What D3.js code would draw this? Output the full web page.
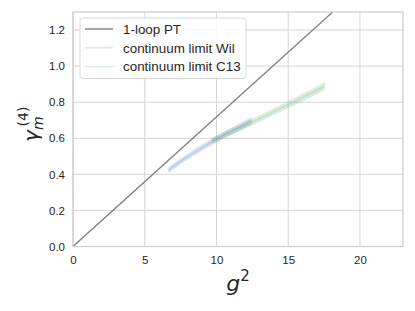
<!DOCTYPE html>
<html><head><meta charset="utf-8">
<script src="https://cdn.jsdelivr.net/npm/d3@7"></script>
<style>body{margin:0;background:#fff}svg{display:block}</style>
</head><body>
<svg id="c" width="415" height="311"></svg>
<script>
// Data
const xTicks = [0, 5, 10, 15, 20];
const yTicks = [0.0, 0.2, 0.4, 0.6, 0.8, 1.0, 1.2];
const ptG2 = [0, 18.1];
const ptGamma = [0, 1.3];
const wilG2 = [6.65, 7.5, 8.5, 9.5, 10.5, 11.5, 12.45];
const wilGamma = [0.423, 0.472, 0.524, 0.572, 0.617, 0.658, 0.697];
const wilErr = [0.016, 0.016, 0.017, 0.018, 0.019, 0.02, 0.021];
const c13G2 = [9.65, 11, 12.5, 14, 15.5, 17.55];
const c13Gamma = [0.585, 0.635, 0.69, 0.748, 0.806, 0.888];
const c13Err = [0.016, 0.017, 0.018, 0.019, 0.02, 0.022];
const legendLabels = ["1-loop PT", "continuum limit Wil", "continuum limit C13"];

const svg = d3.select("#c");
const m = {l: 73, r: 403, t: 12, b: 246.5};
const x = d3.scaleLinear().domain([0, 23]).range([m.l, m.r]);
const y = d3.scaleLinear().domain([0, 1.3]).range([m.b, m.t]);
const font = "'Liberation Sans', Arial, sans-serif";

// grid
const g = svg.append("g");
g.selectAll(".gx").data(xTicks).enter().append("line")
  .attr("x1", d => x(d)).attr("x2", d => x(d)).attr("y1", m.t).attr("y2", m.b)
  .attr("stroke", "#d5d5d5").attr("stroke-width", 1);
g.selectAll(".gy").data(yTicks).enter().append("line")
  .attr("y1", d => y(d)).attr("y2", d => y(d)).attr("x1", m.l).attr("x2", m.r)
  .attr("stroke", "#d5d5d5").attr("stroke-width", 1);

// clip
svg.append("clipPath").attr("id", "clip").append("rect")
  .attr("x", m.l).attr("y", m.t).attr("width", m.r - m.l).attr("height", m.b - m.t);
const plot = svg.append("g").attr("clip-path", "url(#clip)");

function band(xs, ys, es, color) {
  const pts = xs.map((v, i) => ({x: v, y: ys[i], e: es[i]}));
  plot.append("path").datum(pts)
    .attr("d", d3.area().curve(d3.curveMonotoneX).x(d => x(d.x)).y0(d => y(d.y - d.e)).y1(d => y(d.y + d.e)))
    .attr("fill", color).attr("fill-opacity", 0.22);
  plot.append("path").datum(pts)
    .attr("d", d3.line().curve(d3.curveMonotoneX).x(d => x(d.x)).y(d => y(d.y)))
    .attr("fill", "none").attr("stroke", color).attr("stroke-opacity", 0.2).attr("stroke-width", 1.3);
}
band(wilG2, wilGamma, wilErr, "#4C72B0");
band(c13G2, c13Gamma, c13Err, "#55A868");

plot.append("path").datum(ptG2.map((v, i) => [v, ptGamma[i]]))
  .attr("d", d3.line().x(d => x(d[0])).y(d => y(d[1])))
  .attr("fill", "none").attr("stroke", "#808080").attr("stroke-width", 1.3);

// frame
svg.append("rect").attr("x", m.l).attr("y", m.t).attr("width", m.r - m.l).attr("height", m.b - m.t)
  .attr("fill", "none").attr("stroke", "#cccccc").attr("stroke-width", 1.2);

// ticks
const xa = svg.append("g").attr("transform", `translate(0,${m.b})`)
  .call(d3.axisBottom(x).tickValues(xTicks).tickSize(0).tickPadding(9).tickFormat(d3.format("d")));
xa.select(".domain").remove();
xa.selectAll("text").attr("font-family", font).attr("font-size", 11.5).attr("fill", "#262626");
const ya = svg.append("g").attr("transform", `translate(${m.l},0)`)
  .call(d3.axisLeft(y).tickValues(yTicks).tickSize(0).tickPadding(8).tickFormat(d3.format(".1f")));
ya.select(".domain").remove();
ya.selectAll("text").attr("font-family", font).attr("font-size", 11.5).attr("fill", "#262626");

// axis labels
const mf = "'DejaVu Sans', sans-serif";
const xl = svg.append("text").attr("x", (m.l + m.r) / 2).attr("y", 291).attr("text-anchor", "middle")
  .attr("font-family", mf).attr("font-size", 22).attr("fill", "#262626");
xl.append("tspan").attr("font-style", "italic").text("g");
xl.append("tspan").attr("font-size", 15).attr("dy", -10).text("2");

const yl = svg.append("text").attr("transform", `translate(38,${(m.t + m.b) / 2 - 5}) rotate(-90)`)
  .attr("text-anchor", "middle").attr("font-family", mf).attr("font-size", 20).attr("fill", "#262626");
yl.append("tspan").attr("font-style", "italic").text("γ");
yl.append("tspan").attr("font-style", "italic").attr("font-size", 14).attr("dy", 5).text("m");
yl.append("tspan").attr("font-size", 14).attr("dx", -10).attr("dy", -15).text("(4)");

// legend
const lg = svg.append("g");
lg.append("rect").attr("x", 80).attr("y", 18).attr("width", 166).attr("height", 60.5).attr("rx", 3)
  .attr("fill", "#fff").attr("fill-opacity", 0.85).attr("stroke", "#d8d8d8").attr("stroke-width", 1);
const lcol = ["#808080", "#4C72B0", "#55A868"];
const lop = [1, 0.2, 0.2];
legendLabels.forEach((t, i) => {
  const yy = 29 + i * 18.8;
  lg.append("line").attr("x1", 85).attr("x2", 113).attr("y1", yy).attr("y2", yy)
    .attr("stroke", lcol[i]).attr("stroke-opacity", lop[i]).attr("stroke-width", 1.4);
  lg.append("text").attr("x", 123).attr("y", yy + 4.7).attr("font-family", font).attr("font-size", 13.4)
    .attr("fill", "#262626").text(t);
});
</script>
</body></html>
